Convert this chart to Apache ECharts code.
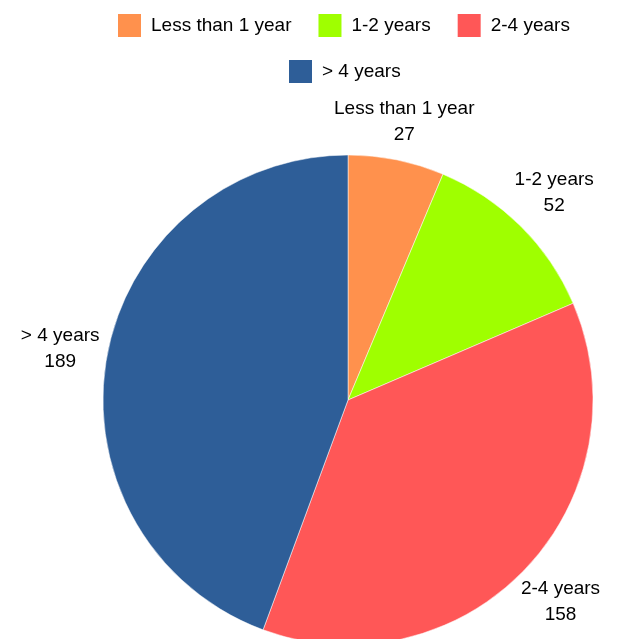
<!DOCTYPE html>
<html>
<head>
<meta charset="utf-8">
<script src="https://cdn.jsdelivr.net/npm/echarts@6/dist/echarts.min.js"></script>
<style>
  html, body { margin: 0; padding: 0; background: #fff; }
  #chart { width: 622px; height: 639px; }
</style>
</head>
<body>
<div id="chart"></div>
<script>
// categories and values
var categories = ["Less than 1 year", "1-2 years", "2-4 years", "> 4 years"];
var counts = [27, 52, 158, 189];
var colors = ["#FF914D", "#9FFF00", "#FF5757", "#2E5E98"];

var chart = echarts.init(document.getElementById("chart"));

// mid angle of every slice (clockwise from 12 o'clock), used to push
// the centred labels out so their box clears the pie edge
var total = counts.reduce(function (a, b) { return a + b; }, 0);
var midAngles = [];
var acc = 0;
counts.forEach(function (v) {
  midAngles.push(((acc + v / 2) / total) * Math.PI * 2);
  acc += v;
});

var legendText = {
  fontFamily: "Liberation Sans",
  fontSize: 19,
  color: "#000",
  padding: [0, 0, 5, 5],
};

var option = {
  animation: false,
  color: colors,
  legend: [
    {
      data: categories.slice(0, 3),
      left: 118,
      top: 14,
      padding: 0,
      itemWidth: 23,
      itemHeight: 23,
      itemGap: 27,
      icon: "rect",
      itemStyle: { borderWidth: 0 },
      selectedMode: false,
      textStyle: legendText,
    },
    {
      data: categories.slice(3),
      left: 289,
      top: 60,
      padding: 0,
      itemWidth: 23,
      itemHeight: 23,
      icon: "rect",
      itemStyle: { borderWidth: 0 },
      selectedMode: false,
      textStyle: legendText,
    },
  ],
  series: [
    {
      type: "pie",
      center: [348, 400],
      radius: 245,
      startAngle: 90,
      clockwise: true,
      avoidLabelOverlap: false,
      silent: true,
      itemStyle: {
        borderColor: "#fff",
        borderWidth: 0.5,
      },
      label: {
        show: true,
        position: "outside",
        formatter: "{b}\n{c}",
        fontFamily: "Liberation Sans",
        fontSize: 19,
        lineHeight: 26,
        color: "#000",
        distanceToLabelLine: 0,
      },
      labelLine: {
        show: false,
        length: 5,
        length2: 0,
      },
      labelLayout: function (params) {
        var a = midAngles[params.dataIndex];
        var ux = Math.sin(a), uy = -Math.cos(a);
        var w = params.labelRect.width, h = params.labelRect.height;
        var extra = Math.abs(ux) * w / 2 + Math.abs(uy) * h * 0.4;
        return {
          align: "center",
          verticalAlign: "middle",
          dx: ux * extra,
          dy: uy * extra,
        };
      },
      data: categories.map(function (name, i) {
        return { name: name, value: counts[i] };
      }),
    },
  ],
};

chart.setOption(option);
</script>
</body>
</html>
